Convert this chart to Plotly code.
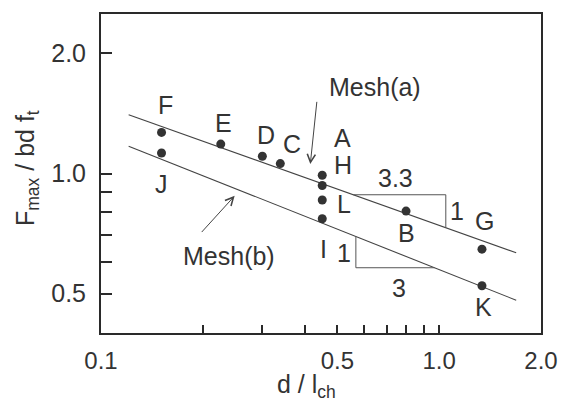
import numpy as np
import plotly.graph_objects as go

# ---------------- data ----------------
point_labels = ["F", "J", "E", "D", "C", "A", "H", "L", "I", "B", "G", "K"]
point_x = [0.151, 0.151, 0.226, 0.300, 0.339, 0.451, 0.451, 0.451, 0.451, 0.798, 1.338, 1.338]
point_y = [1.268, 1.126, 1.185, 1.105, 1.059, 0.990, 0.933, 0.858, 0.770, 0.805, 0.646, 0.523]

line_x = [0.1207, 1.689]
mesh_a_y = [1.404, 0.6326]
mesh_b_y = [1.171, 0.481]

tri_a_x = [0.557, 1.046]   # slope triangle on Mesh(a): 3.3 / 1
tri_b_x = [0.567, 0.968]   # slope triangle on Mesh(b): 1 / 3

x_tickvals = [0.1, 0.2, 0.3, 0.4, 0.5, 0.6, 0.7, 0.8, 0.9, 1.0, 2.0]
x_ticktext = ["0.1", "", "", "", "0.5", "", "", "", "", "1.0", "2.0"]
y_tickvals = [0.5, 0.6, 0.7, 0.8, 0.9, 1.0, 2.0]
y_ticktext = ["0.5", "", "", "", "", "1.0", "2.0"]

# ---------------- helpers ----------------
def line_y_at(xv, lx, ly):
    lx = np.log10(lx); ly = np.log10(ly)
    t = (np.log10(xv) - lx[0]) / (lx[1] - lx[0])
    return 10 ** (ly[0] + t * (ly[1] - ly[0]))

W, H = 570, 404
ML, MR, MT, MB = 101, 17, 12, 71
PW, PH = W - ML - MR, H - MT - MB

def px(xp):
    return (xp - ML) / PW

def py(yp):
    return (H - MB - yp) / PH

INK = "#333333"
FONT = "Liberation Sans, Arial, Helvetica, sans-serif"
FS = 25

fig = go.Figure()

# fitted lines
for yy in (mesh_a_y, mesh_b_y):
    fig.add_trace(go.Scatter(x=line_x, y=yy, mode="lines",
                             line=dict(color="#444444", width=1.1),
                             showlegend=False, hoverinfo="skip"))

# slope triangles
ya1 = line_y_at(tri_a_x[0], line_x, mesh_a_y)
ya2 = line_y_at(tri_a_x[1], line_x, mesh_a_y)
fig.add_trace(go.Scatter(x=[tri_a_x[0], tri_a_x[1], tri_a_x[1]], y=[ya1, ya1, ya2],
                         mode="lines", line=dict(color="#555555", width=1),
                         showlegend=False, hoverinfo="skip"))
yb1 = line_y_at(tri_b_x[0], line_x, mesh_b_y)
yb2 = line_y_at(tri_b_x[1], line_x, mesh_b_y)
fig.add_trace(go.Scatter(x=[tri_b_x[0], tri_b_x[0], tri_b_x[1]], y=[yb1, yb2, yb2],
                         mode="lines", line=dict(color="#555555", width=1),
                         showlegend=False, hoverinfo="skip"))

# points
fig.add_trace(go.Scatter(x=point_x, y=point_y, mode="markers",
                         marker=dict(color=INK, size=9),
                         showlegend=False))

# text labels (pixel centres)
labels = [
    ("F", 167, 104), ("E", 227, 122), ("D", 271, 134), ("C", 297, 143),
    ("A", 349, 137), ("H", 350, 164), ("L", 351, 203), ("I", 330, 248),
    ("B", 415, 232), ("G", 495, 220), ("K", 494, 307), ("J", 163, 183),
    ("3.3", 404, 177), ("1", 467, 210), ("1", 351, 253), ("3", 407, 288),
    ("Mesh(a)", 382, 85), ("Mesh(b)", 233, 256),
]
for t, xx, yy in labels:
    fig.add_annotation(x=px(xx), y=py(yy), xref="paper", yref="paper",
                       text=t, showarrow=False, xanchor="center", yanchor="middle",
                       font=dict(family=FONT, size=FS, color=INK))

# arrows (tip, tail offset)
for tip, tail in [((316, 163), (322.7, 99.3)), ((238.3, 195), (204, 232.7))]:
    fig.add_annotation(x=px(tip[0]), y=py(tip[1]), xref="paper", yref="paper",
                       text="", showarrow=True, arrowhead=5, arrowsize=1.6,
                       arrowwidth=1, arrowcolor="#444444", standoff=0,
                       ax=tail[0] - tip[0], ay=tail[1] - tip[1])

# axis titles
fig.add_annotation(x=px(312), y=py(386), xref="paper", yref="paper",
                   text="d / l<sub>ch</sub>", showarrow=False,
                   xanchor="center", yanchor="middle",
                   font=dict(family=FONT, size=FS, color=INK))
fig.add_annotation(x=px(25), y=py(167), xref="paper", yref="paper",
                   text="F<sub>max</sub> / bd f<sub>t</sub>", showarrow=False,
                   textangle=-90, xanchor="center", yanchor="middle",
                   font=dict(family=FONT, size=FS, color=INK))

axis_common = dict(type="log", showgrid=False, zeroline=False, showline=True,
                   linecolor="#2a2a2a", linewidth=2, mirror=True,
                   ticks="inside", tickcolor="#2a2a2a", tickwidth=1.5)

fig.update_xaxes(range=[-1, np.log10(2.0)], tickmode="array",
                 tickvals=x_tickvals, ticktext=x_ticktext, ticklen=8,
                 ticklabelstandoff=5,
                 tickfont=dict(family=FONT, size=24, color=INK), **axis_common)
fig.update_yaxes(range=[-0.4, 0.4], tickmode="array",
                 tickvals=y_tickvals, ticktext=y_ticktext, ticklen=11,
                 ticklabelstandoff=8,
                 tickfont=dict(family=FONT, size=25, color=INK), **axis_common)

fig.update_layout(width=W, height=H,
                  margin=dict(l=ML, r=MR, t=MT, b=MB, pad=0),
                  paper_bgcolor="white", plot_bgcolor="white",
                  showlegend=False)

fig.write_html("out.html")
